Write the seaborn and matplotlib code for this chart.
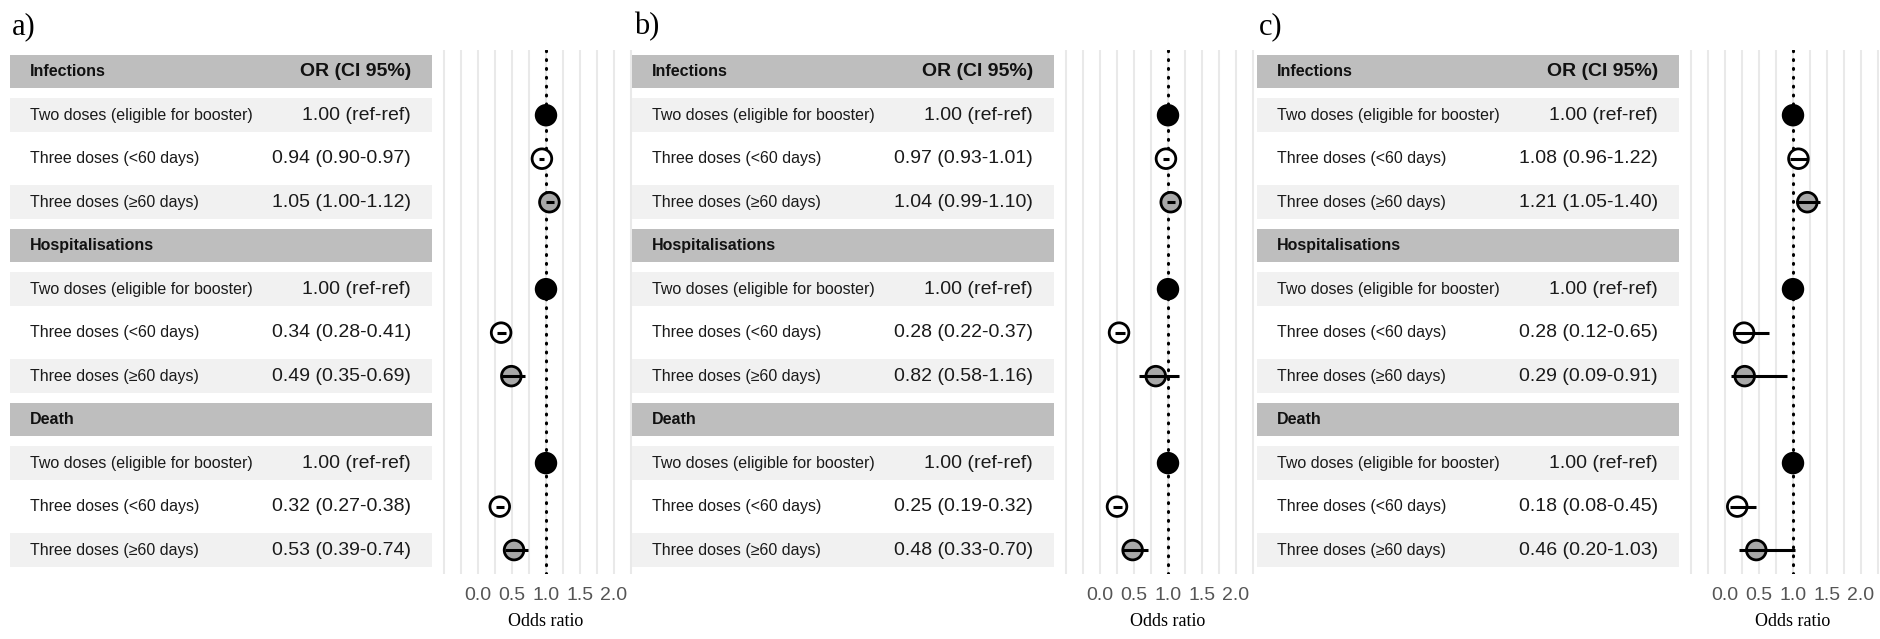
import numpy as np
import pandas as pd
import matplotlib
matplotlib.use("Agg")
import matplotlib.pyplot as plt
import seaborn as sns

# ---------------- data ----------------
sections = ["Infections", "Hospitalisations", "Death"]
row_labels = ["Two doses (eligible for booster)", "Three doses (<60 days)", "Three doses (\u226560 days)"]
groups = ["ref", "lt60", "ge60"]
panel_labels = ["a)", "b)", "c)"]
or_header = "OR (CI 95%)"
x_label = "Odds ratio"

nan = np.nan
# order: Infections (ref, <60, >=60), Hospitalisations (...), Death (...)
or_a = [1.00, 0.94, 1.05, 1.00, 0.34, 0.49, 1.00, 0.32, 0.53]
lo_a = [nan, 0.90, 1.00, nan, 0.28, 0.35, nan, 0.27, 0.39]
hi_a = [nan, 0.97, 1.12, nan, 0.41, 0.69, nan, 0.38, 0.74]

or_b = [1.00, 0.97, 1.04, 1.00, 0.28, 0.82, 1.00, 0.25, 0.48]
lo_b = [nan, 0.93, 0.99, nan, 0.22, 0.58, nan, 0.19, 0.33]
hi_b = [nan, 1.01, 1.10, nan, 0.37, 1.16, nan, 0.32, 0.70]

or_c = [1.00, 1.08, 1.21, 1.00, 0.28, 0.29, 1.00, 0.18, 0.46]
lo_c = [nan, 0.96, 1.05, nan, 0.12, 0.09, nan, 0.08, 0.20]
hi_c = [nan, 1.22, 1.40, nan, 0.65, 0.91, nan, 0.45, 1.03]

x_ticks = [0.0, 0.5, 1.0, 1.5, 2.0]
x_tick_labels = ["0.0", "0.5", "1.0", "1.5", "2.0"]
grid_minor = [-0.5, -0.25, 0.25, 0.75, 1.25, 1.75, 2.25]

panels = [(or_a, lo_a, hi_a), (or_b, lo_b, hi_b), (or_c, lo_c, hi_c)]

# ---------------- style ----------------
sns.set_theme(style="white")
plt.rcParams["font.family"] = ["Liberation Sans", "DejaVu Sans"]

W, H = 1881, 639
fig = plt.figure(figsize=(W / 100, H / 100), dpi=100)

ax_top_px, ax_bot_px = 50, 574
y0 = 1 - ax_bot_px / H
hgt = (ax_bot_px - ax_top_px) / H
ylim = (11.55, -0.5)
xlim = (-0.55, 2.29)
px_per_unit = 68.0

palette = {"ref": "black", "lt60": "white", "ge60": "#A8A8A8"}
header_col = "#BEBEBE"
light_col = "#F1F1F1"

offsets = [0, 622, 1247]

for p, (vals, los, his) in enumerate(panels):
    o = offsets[p]
    # ---------- table ----------
    tl, tw = 10 + o, 422
    axt = fig.add_axes([tl / W, y0, tw / W, hgt])
    axt.set_xlim(0, 1)
    axt.set_ylim(*ylim)
    axt.axis("off")
    lx = 20 / tw
    rx = 1 - 21 / tw
    k = 0
    for s, sec in enumerate(sections):
        yh = 4 * s
        axt.axhspan(yh - 0.38, yh + 0.38, color=header_col, lw=0)
        axt.text(lx, yh, sec, fontsize=11.5, fontweight="bold", va="center", ha="left", color="#111111")
        if s == 0:
            axt.text(rx, yh, or_header, fontsize=14, fontweight="bold", va="center", ha="right", color="#111111")
        for r, lab in enumerate(row_labels):
            yr = yh + 1 + r
            if r != 1:
                axt.axhspan(yr - 0.39, yr + 0.39, color=light_col, lw=0)
            axt.text(lx, yr, lab, fontsize=11.5, va="center", ha="left", color="#1a1a1a")
            v, lo, hi = vals[k], los[k], his[k]
            if np.isnan(lo):
                txt = f"{v:.2f} (ref-ref)"
            else:
                txt = f"{v:.2f} ({lo:.2f}-{hi:.2f})"
            axt.text(rx, yr, txt, fontsize=14, va="center", ha="right", color="#1a1a1a")
            k += 1
    fig.text((tl + 2) / W, 1 - 12 / H, panel_labels[p], fontsize=22,
             family=["Liberation Serif", "DejaVu Serif"], va="top", ha="left", color="black")

    # ---------- forest plot ----------
    zero_px = 478 + o
    pl = zero_px + xlim[0] * px_per_unit
    pw = (xlim[1] - xlim[0]) * px_per_unit
    axp = fig.add_axes([pl / W, y0, pw / W, hgt])
    ypos, grp = [], []
    for s in range(3):
        for r in range(3):
            ypos.append(4 * s + 1 + r)
            grp.append(groups[r])
    df = pd.DataFrame({"OR": vals, "lo": los, "hi": his, "y": ypos, "group": grp})

    axp.axvline(1.0, color="black", lw=2.2, ls=(0, (0.3, 2.6)), dash_capstyle="round", zorder=2)
    sns.scatterplot(data=df, x="OR", y="y", hue="group", palette=palette, s=200,
                    edgecolor="black", linewidth=2.0, legend=False, ax=axp, zorder=3)
    ci = df.dropna()
    axp.hlines(ci["y"], ci["lo"], ci["hi"], color="black", lw=2.2, zorder=4)

    axp.set_xlim(*xlim)
    axp.set_ylim(*ylim)
    axp.set_xticks(x_ticks)
    axp.set_xticklabels(x_tick_labels)
    axp.set_xticks(grid_minor, minor=True)
    axp.set_yticks([])
    axp.grid(True, which="both", axis="x", color="#E9E9E9", lw=1.5, zorder=0)
    axp.set_axisbelow(True)
    for sp in axp.spines.values():
        sp.set_visible(False)
    axp.tick_params(axis="x", which="both", length=0, pad=9, labelsize=14, labelcolor="#555555")
    axp.set_ylabel("")
    axp.set_xlabel(x_label, fontsize=13, family=["Liberation Serif", "DejaVu Serif"], color="black")
    axp.xaxis.set_label_coords((1.0 - xlim[0]) / (xlim[1] - xlim[0]), -0.075)

fig.savefig("out.png", dpi=100, facecolor="white")
